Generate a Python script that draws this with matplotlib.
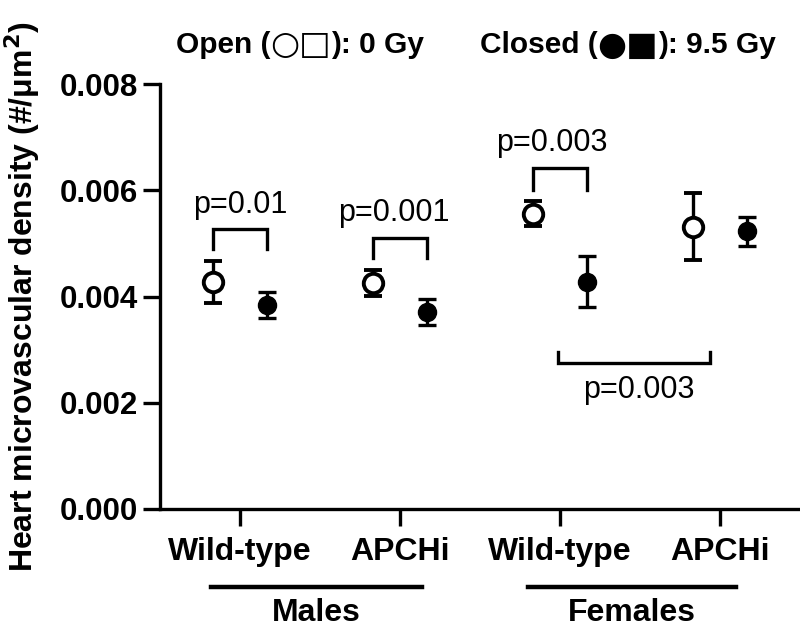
import matplotlib
matplotlib.use("Agg")
import matplotlib.pyplot as plt

plt.rcParams['font.family'] = ['Liberation Sans', 'DejaVu Sans']

groups = ['Wild-type', 'APCHi', 'Wild-type', 'APCHi']
sexes = ['Males', 'Females']

open_mean = [0.00427, 0.00425, 0.00556, 0.00531]
open_err = [0.00039, 0.00024, 0.00023, 0.00063]
closed_mean = [0.00384, 0.00371, 0.00428, 0.00523]
closed_err = [0.00025, 0.00025, 0.00048, 0.00027]

# significance brackets: left x, right x, bar y, leg end y, label, label x, label y
br_left = [-0.17, 0.83, 1.83, 1.99]
br_right = [0.17, 1.17, 2.17, 2.94]
br_bar = [0.00528, 0.00511, 0.00641, 0.00274]
br_leg = [0.00489, 0.00472, 0.00600, 0.00295]
br_text = ['p=0.01', 'p=0.001', 'p=0.003', 'p=0.003']
br_text_x = [0.0, 0.96, 1.95, 2.49]
br_text_y = [0.00572, 0.00557, 0.00689, 0.00224]

fig = plt.figure(figsize=(8, 6.28), dpi=100)
ax = fig.add_axes([0.2, 0.1895, 0.8, 0.6767])

x = range(len(groups))
off = 0.17
ax.errorbar([i - off for i in x], open_mean, yerr=open_err, fmt='o', ms=14,
            mfc='white', mec='black', mew=2.8, color='black', elinewidth=2.4,
            capsize=6.5, capthick=2.4, zorder=3)
ax.errorbar([i + off for i in x], closed_mean, yerr=closed_err, fmt='o', ms=13,
            mfc='black', mec='black', color='black', elinewidth=2.4,
            capsize=6.5, capthick=2.4, zorder=3)

for i in range(len(br_text)):
    xl, xr, yb, yl = br_left[i], br_right[i], br_bar[i], br_leg[i]
    ax.plot([xl, xl, xr, xr], [yl, yb, yb, yl], color='black', lw=2.4,
            solid_joinstyle='miter', clip_on=False)
    ax.text(br_text_x[i], br_text_y[i], br_text[i], ha='center', va='center',
            fontsize=22)

ax.set_xlim(-0.5, 3.5)
ax.set_ylim(0, 0.008)
ax.set_yticks([0, 0.002, 0.004, 0.006, 0.008])
ax.set_yticklabels(['%.3f' % v for v in [0, 0.002, 0.004, 0.006, 0.008]],
                   fontsize=22.5, fontweight='bold')
ax.set_xticks(list(x))
ax.set_xticklabels(groups, fontsize=23, fontweight='bold')
ax.tick_params(length=12, width=2.4, pad=4)
ax.tick_params(axis='x', pad=8)
for s in ['top', 'right']:
    ax.spines[s].set_visible(False)
for s in ['left', 'bottom']:
    ax.spines[s].set_linewidth(2.4)

ax.set_ylabel('Heart microvascular density (#/\u03bcm$^\\mathbf{2}$)',
              fontsize=23, fontweight='bold')
ax.yaxis.set_label_coords(-0.185, 0.5)

tr = ax.get_xaxis_transform()
sex_lines = [(-0.18, 1.14), (1.8, 3.1)]
for (a, b), name in zip(sex_lines, sexes):
    ax.plot([a, b], [-0.1835, -0.1835], color='black', lw=3.2,
            transform=tr, clip_on=False)
    ax.text((a + b) / 2, -0.2635, name, transform=tr, ha='center',
            va='baseline', fontsize=23, fontweight='bold')

# header key built from pieces so the symbols can be larger
key_y = 1 - 45 / 628
keys = [(176 / 800, 'Open (', '\u25cb\u25a1', '): 0 Gy'),
        (480 / 800, 'Closed (', '\u25cf\u25a0', '): 9.5 Gy')]
for kx, pre, sym, post in keys:
    t1 = fig.text(kx, key_y, pre, ha='left', va='center', fontsize=21.5,
                  fontweight='bold')
    t2 = ax.annotate(sym, xy=(1, 0.5), xycoords=t1, ha='left', va='center',
                     fontsize=24, family='DejaVu Sans', fontweight='bold')
    ax.annotate(post, xy=(1, 0.5), xycoords=t2, ha='left', va='center',
                fontsize=21.5, fontweight='bold')

fig.savefig('out.png', dpi=100)
